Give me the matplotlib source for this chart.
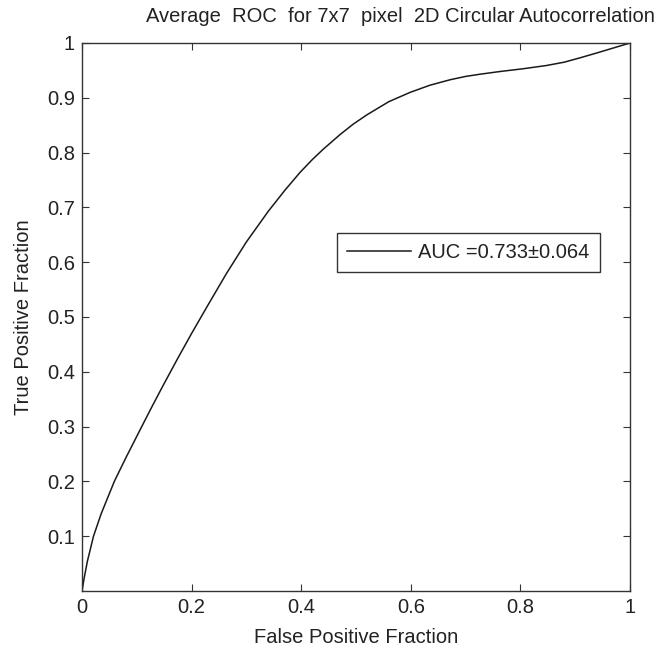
import matplotlib
matplotlib.use("Agg")
import matplotlib.pyplot as plt

plt.rcParams['font.family'] = ['Liberation Sans', 'DejaVu Sans']

# Average ROC curve samples
fpf = [0.0, 0.004, 0.010, 0.021, 0.035, 0.059, 0.080, 0.109, 0.128, 0.148,
       0.175, 0.200, 0.230, 0.264, 0.300, 0.340, 0.370, 0.398, 0.420, 0.440,
       0.471, 0.495, 0.520, 0.560, 0.599, 0.635, 0.672, 0.700, 0.726, 0.763,
       0.805, 0.848, 0.880, 0.909, 0.940, 0.970, 0.990, 1.0]
tpf = [0.0, 0.024, 0.055, 0.100, 0.141, 0.200, 0.243, 0.300, 0.337, 0.375,
       0.425, 0.470, 0.522, 0.580, 0.637, 0.693, 0.731, 0.764, 0.787, 0.806,
       0.833, 0.852, 0.869, 0.893, 0.910, 0.923, 0.933, 0.939, 0.943, 0.948,
       0.953, 0.959, 0.965, 0.973, 0.982, 0.991, 0.997, 1.0]

auc_mean = 0.733
auc_std = 0.064

title = "Average  ROC  for 7x7  pixel  2D Circular Autocorrelation"
x_ticks = [0, 0.2, 0.4, 0.6, 0.8, 1]
x_tick_labels = ["0", "0.2", "0.4", "0.6", "0.8", "1"]
y_ticks = [0.1, 0.2, 0.3, 0.4, 0.5, 0.6, 0.7, 0.8, 0.9, 1]
y_tick_labels = ["0.1", "0.2", "0.3", "0.4", "0.5", "0.6", "0.7", "0.8", "0.9", "1"]

W, H = 663, 651
fig = plt.figure(figsize=(W / 100, H / 100), dpi=100)
ax = fig.add_axes([82 / W, 1 - 591 / H, 548 / W, 548 / H])

text_color = "#222222"
fs = 14.5

ax.plot(fpf, tpf, color="#1a1a1a", lw=1.1,
        label=f"AUC ={auc_mean:.3f}\u00b1{auc_std:.3f}")

ax.set_xlim(0, 1)
ax.set_ylim(0, 1)
ax.set_xticks(x_ticks)
ax.set_xticklabels(x_tick_labels)
ax.set_yticks(y_ticks)
ax.set_yticklabels(y_tick_labels)
ax.tick_params(direction="in", length=5, width=0.8, top=True, right=True,
               labelsize=fs, labelcolor=text_color, colors="#333333", pad=5)
for s in ax.spines.values():
    s.set_color("#333333")
    s.set_linewidth(1.0)

ax.set_xlabel("False Positive Fraction", fontsize=fs, color=text_color, labelpad=8)
ax.set_ylabel("True Positive Fraction", fontsize=fs, color=text_color, labelpad=10)

fig.text(400 / W, 1 - 16 / H, title, ha="center", va="center",
         fontsize=fs, color=text_color)

leg = ax.legend(loc="center", bbox_to_anchor=(0.705, 0.618), fontsize=fs,
                handlelength=3.2, handletextpad=0.35, borderpad=0.5,
                fancybox=False, framealpha=1, borderaxespad=0)
leg.get_frame().set_edgecolor("#333333")
leg.get_frame().set_linewidth(1.0)
for t in leg.get_texts():
    t.set_color(text_color)

fig.savefig("out.png", dpi=100)
